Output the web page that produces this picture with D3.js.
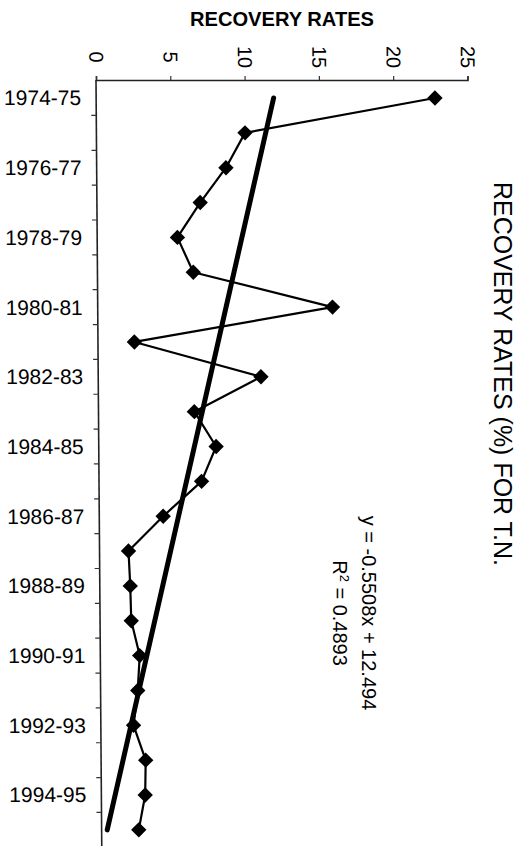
<!DOCTYPE html>
<html>
<head>
<meta charset="utf-8">
<script src="https://cdn.jsdelivr.net/npm/d3@7"></script>
<style>
  html, body { margin: 0; padding: 0; background: #fff; }
  svg { display: block; }
  text { font-family: "Liberation Sans", Arial, Helvetica, sans-serif; fill: #000; }
</style>
</head>
<body>
<script>
// Recovery rates (%) for T.N., 1974-75 to 1995-96, with linear trend
const categories = [
  "1974-75", "1975-76", "1976-77", "1977-78", "1978-79", "1979-80",
  "1980-81", "1981-82", "1982-83", "1983-84", "1984-85", "1985-86",
  "1986-87", "1987-88", "1988-89", "1989-90", "1990-91", "1991-92",
  "1992-93", "1993-94", "1994-95", "1995-96"
];
const recoveryRates = [
  22.8, 10.0, 8.7, 6.95, 5.4, 6.45,
  15.8, 2.45, 10.95, 6.45, 7.9, 6.9,
  4.3, 1.95, 2.05, 2.1, 2.65, 2.5,
  2.2, 3.0, 2.95, 2.5
];
const valueTicks = [0, 5, 10, 15, 20, 25];
const trendSlope = [-0.5508];
const trendIntercept = [12.494];
const rSquared = [0.4893];

const W = 529, H = 846;
const svg = d3.select("body").append("svg")
  .attr("width", W).attr("height", H);

// value axis runs across the top, categories run downward
const x = d3.scaleLinear().domain([0, 25]).range([96, 467.5]);
const y = d3.scalePoint().domain(categories).range([98, 98 + 21 * 34.85]);
const step = y.step();
const axisTop = 80;
const plotBottom = H;

// slight lean of the whole chart body
const g = svg.append("g")
  .attr("transform", `translate(0,${axisTop}) skewX(0.43) translate(0,${-axisTop})`);

// top value axis
const xAxis = d3.axisTop(x).tickValues(valueTicks).tickSize(4).tickFormat(d3.format("d"));
const xg = g.append("g").attr("transform", `translate(0,${axisTop})`).call(xAxis);
xg.select(".domain").attr("stroke", "#222").attr("stroke-width", 1.6);
xg.selectAll(".tick line").attr("stroke", "#333").attr("stroke-width", 1.2);
xg.selectAll(".tick text")
  .attr("font-size", 20)
  .attr("text-anchor", "middle")
  .attr("dominant-baseline", "central")
  .attr("y", 0)
  .attr("transform", "translate(0,-23) rotate(90)");

// left category axis line and ticks at category boundaries
g.append("line")
  .attr("x1", x(0)).attr("x2", x(0))
  .attr("y1", axisTop).attr("y2", plotBottom)
  .attr("stroke", "#222").attr("stroke-width", 1.6);
g.append("g").selectAll("line")
  .data(categories.slice(0, -1))
  .join("line")
  .attr("x1", x(0) - 5).attr("x2", x(0))
  .attr("y1", d => y(d) + step / 2).attr("y2", d => y(d) + step / 2)
  .attr("stroke", "#333").attr("stroke-width", 1.2);

// every other category is labelled
g.append("g").selectAll("text")
  .data(categories.filter((d, i) => i % 2 === 0))
  .join("text")
  .attr("x", 81)
  .attr("y", d => y(d))
  .attr("text-anchor", "end")
  .attr("dominant-baseline", "central")
  .attr("font-size", 21)
  .text(d => d);

// data series
const line = d3.line()
  .x((d, i) => x(d))
  .y((d, i) => y(categories[i]));
g.append("path")
  .datum(recoveryRates)
  .attr("d", line)
  .attr("fill", "none")
  .attr("stroke", "#000")
  .attr("stroke-width", 2.2)
  .attr("stroke-linejoin", "round");

// linear trend from its stated equation, over category numbers 1..n
const n = categories.length;
const trendVal = k => trendSlope[0] * k + trendIntercept[0];
g.append("line")
  .attr("x1", x(trendVal(1))).attr("y1", y(categories[0]))
  .attr("x2", x(trendVal(n))).attr("y2", y(categories[n - 1]))
  .attr("stroke", "#000")
  .attr("stroke-width", 5)
  .attr("stroke-linecap", "round");

// diamond markers
const diamond = d3.symbol().type(d3.symbolSquare).size(118);
g.append("g").selectAll("path")
  .data(recoveryRates)
  .join("path")
  .attr("d", diamond)
  .attr("transform", (d, i) => `translate(${x(d)},${y(categories[i])}) rotate(45)`)
  .attr("fill", "#000");

// trend equation and R²
const eq = svg.append("text")
  .attr("transform", "translate(362,613) rotate(90)")
  .attr("text-anchor", "middle")
  .attr("font-size", 20);
eq.append("tspan")
  .attr("x", 0).attr("y", 0)
  .text(`y = ${trendSlope[0]}x + ${trendIntercept[0]}`);
const r2line = eq.append("tspan").attr("x", 0).attr("y", 29);
r2line.append("tspan").text("R");
r2line.append("tspan").attr("font-size", 13).attr("baseline-shift", "super").text("2");
r2line.append("tspan").text(` = ${rSquared[0]}`);

// axis title across the top
svg.append("text")
  .attr("x", 282).attr("y", 26)
  .attr("text-anchor", "middle")
  .attr("font-size", 20)
  .attr("font-weight", "bold")
  .attr("textLength", 184)
  .attr("lengthAdjust", "spacingAndGlyphs")
  .text("RECOVERY RATES");

// chart title down the right side
svg.append("text")
  .attr("transform", "translate(494,374) rotate(90)")
  .attr("text-anchor", "middle")
  .attr("font-size", 25)
  .attr("textLength", 384)
  .attr("lengthAdjust", "spacingAndGlyphs")
  .text("RECOVERY RATES (%) FOR T.N.");
</script>
</body>
</html>
